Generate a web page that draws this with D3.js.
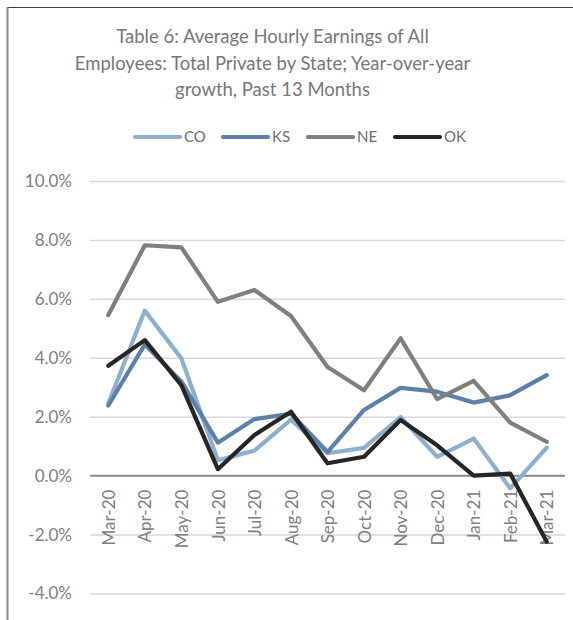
<!DOCTYPE html>
<html>
<head>
<meta charset="utf-8">
<script src="https://cdn.jsdelivr.net/npm/d3@7"></script>
<style>
  html, body { margin: 0; padding: 0; background: #fff; }
  svg { display: block; }
  text { font-family: Lato, "Liberation Sans", sans-serif; }
</style>
</head>
<body>
<svg id="chart" width="573" height="620"></svg>
<script>
// Year-over-year growth of average hourly earnings, % (Mar-20 .. Mar-21)
const months = ["Mar-20","Apr-20","May-20","Jun-20","Jul-20","Aug-20","Sep-20","Oct-20","Nov-20","Dec-20","Jan-21","Feb-21","Mar-21"];
const CO = [2.45, 5.6, 3.98, 0.52, 0.85, 1.9, 0.76, 0.94, 1.99, 0.64, 1.26, -0.43, 0.95];
const KS = [2.38, 4.45, 3.2, 1.12, 1.92, 2.1, 0.8, 2.23, 2.98, 2.85, 2.48, 2.73, 3.41];
const NE = [5.45, 7.82, 7.75, 5.9, 6.3, 5.42, 3.69, 2.9, 4.66, 2.6, 3.22, 1.8, 1.15];
const OK = [3.73, 4.6, 3.07, 0.22, 1.38, 2.17, 0.42, 0.64, 1.89, 1.03, 0.0, 0.07, -2.24];
const seriesNames = ["CO", "KS", "NE", "OK"];
const seriesColors = ["#8eb0d0", "#5b80ac", "#7f7f7f", "#262626"];
const yTicks = [-4, -2, 0, 2, 4, 6, 8, 10];
const titleLines = [
  "Table 6: Average Hourly Earnings of All",
  "Employees: Total Private by State; Year-over-year",
  "growth, Past 13 Months"
];

const series = [CO, KS, NE, OK].map((values, i) => ({
  name: seriesNames[i], color: seriesColors[i], values
}));

const svg = d3.select("#chart");

// frame edges
svg.append("line").attr("x1", 7).attr("x2", 573).attr("y1", 7.5).attr("y2", 7.5)
  .attr("stroke", "#3c3c3c").attr("stroke-width", 1.2);
svg.append("line").attr("x1", 7.5).attr("x2", 7.5).attr("y1", 7).attr("y2", 620)
  .attr("stroke", "#8a8a8a").attr("stroke-width", 2);

// title
const title = svg.append("text").attr("text-anchor", "middle")
  .attr("fill", "#787878").attr("font-size", 18.5);
titleLines.forEach((t, i) => {
  title.append("tspan").attr("x", 272.5).attr("y", 43 + i * 26.5).text(t);
});

const left = 90, right = 565;
const x = d3.scalePoint().domain(months).range([left, right]).padding(0.5);
const y = d3.scaleLinear().domain([-4, 10]).range([593.5, 181]);

// gridlines + y labels via axis
const yAxis = d3.axisLeft(y).tickValues(yTicks).tickSize(-(right - left))
  .tickPadding(18).tickFormat(d => d.toFixed(1) + "%");
const gy = svg.append("g").attr("transform", `translate(${left},0)`).call(yAxis);
gy.select(".domain").remove();
gy.selectAll(".tick line").attr("stroke", "#d9d9d9").attr("stroke-width", 1.5);
gy.selectAll(".tick text").attr("fill", "#808080").attr("font-size", 17)
  .attr("font-family", "Lato, sans-serif");

// zero baseline
svg.append("line").attr("x1", left).attr("x2", right)
  .attr("y1", y(0)).attr("y2", y(0))
  .attr("stroke", "#8c8c8c").attr("stroke-width", 2);

// category labels, rotated
const gx = svg.append("g").attr("transform", `translate(0,${y(0)})`)
  .call(d3.axisBottom(x).tickSize(0).tickPadding(0));
gx.select(".domain").remove();
gx.selectAll(".tick text")
  .attr("transform", "translate(0,14) rotate(-90)")
  .attr("text-anchor", "end")
  .attr("x", 0).attr("y", 0).attr("dy", "0.36em")
  .attr("fill", "#808080").attr("font-size", 17)
  .attr("font-family", "Lato, sans-serif");

// series lines
const line = d3.line().x((d, i) => x(months[i])).y(d => y(d));
svg.append("g").selectAll("path").data(series).join("path")
  .attr("d", d => line(d.values))
  .attr("fill", "none")
  .attr("stroke", d => d.color)
  .attr("stroke-width", 4.2)
  .attr("stroke-linejoin", "round")
  .attr("stroke-linecap", "round");

// legend
const legendX = [135, 223, 308, 395];
const lg = svg.append("g").selectAll("g").data(series).join("g")
  .attr("transform", (d, i) => `translate(${legendX[i]},137)`);
lg.append("line").attr("x1", 0).attr("x2", 45).attr("y1", 0).attr("y2", 0)
  .attr("stroke", d => d.color).attr("stroke-width", 4.2).attr("stroke-linecap", "round");
lg.append("text").attr("x", 49).attr("y", 0).attr("dy", "0.36em")
  .attr("fill", "#6e6e6e").attr("font-size", 15).text(d => d.name);
</script>
</body>
</html>
